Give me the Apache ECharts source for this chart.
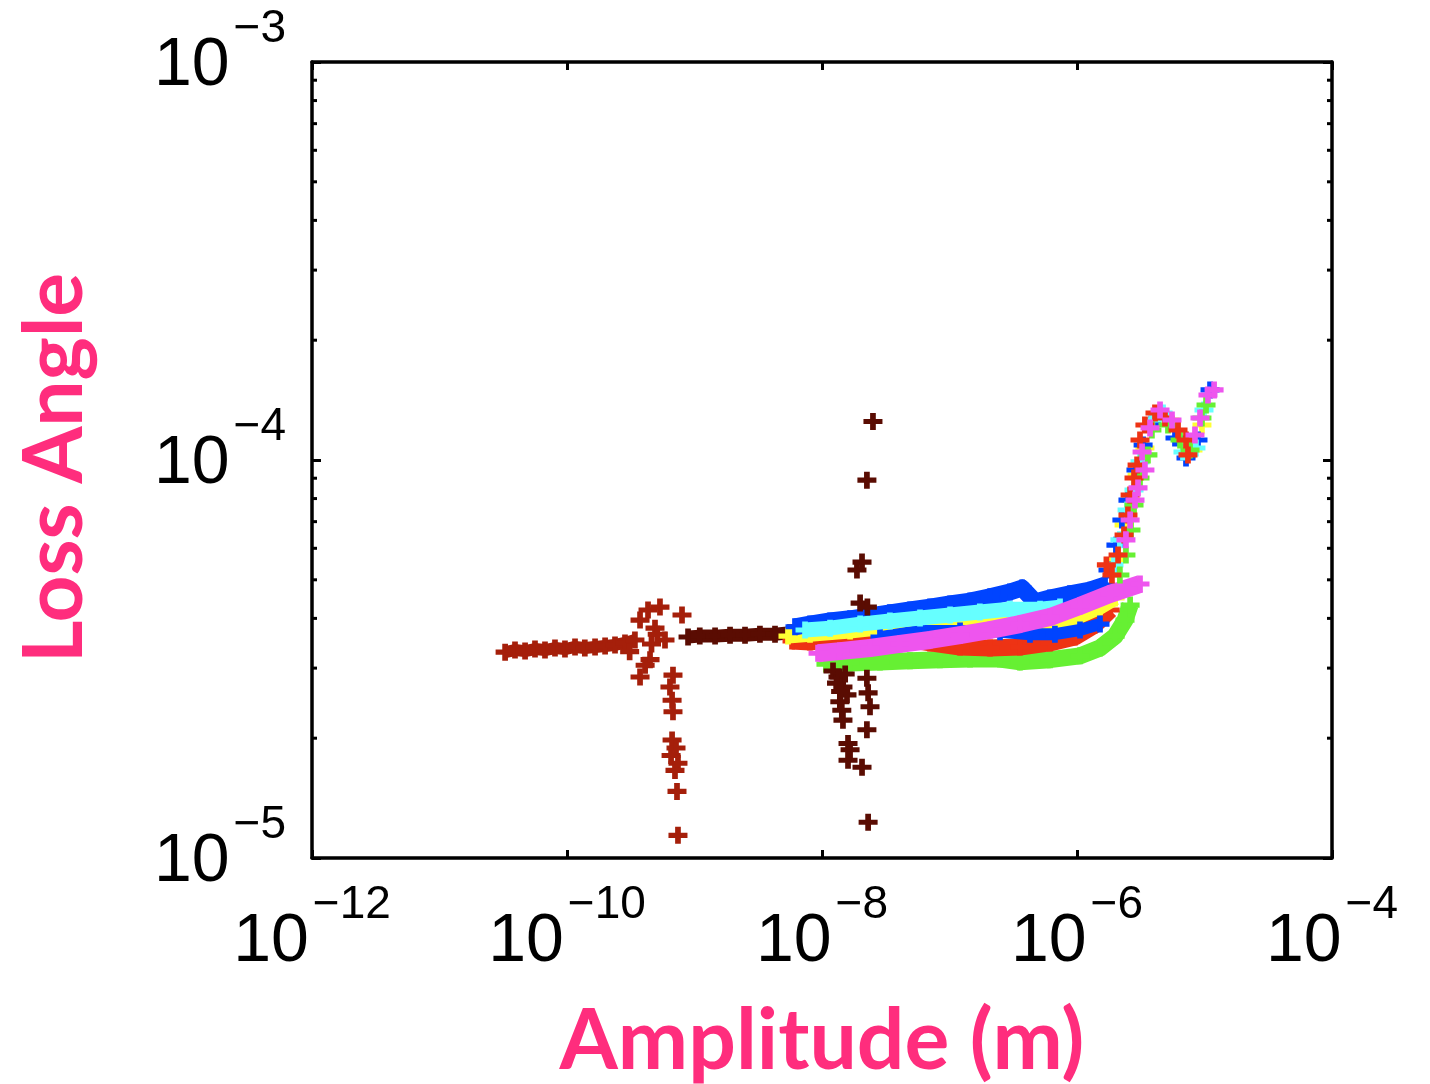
<!DOCTYPE html>
<html><head><meta charset="utf-8">
<script src="https://cdn.jsdelivr.net/npm/echarts@6/dist/echarts.min.js"></script>
<style>html,body{margin:0;padding:0;background:#fff}#c{width:1430px;height:1084px}</style>
</head><body><div id="c"></div>
<script>
// ---- axis ranges / ticks ----
const xMin = 1e-12, xMax = 1e-4;
const yMin = 1e-5, yMax = 1e-3;
const minorMantissas = [2, 3, 4, 5, 6, 7, 8, 9];
const yDecades = [1e-5, 1e-4];

// ---- data: [amplitude (m), loss angle] ----
const darkRedBand = [[3.27e-11,3.29e-5],[3.91e-11,3.33e-5],[4.69e-11,3.31e-5],[5.61e-11,3.35e-5],[6.72e-11,3.33e-5],[8.05e-11,3.37e-5],[9.64e-11,3.35e-5],[1.156e-10,3.39e-5],[1.38e-10,3.37e-5],[1.66e-10,3.39e-5],[1.99e-10,3.41e-5],[2.38e-10,3.43e-5],[2.85e-10,3.47e-5],[3.41e-10,3.53e-5]];
const darkRedScatter = [[3.74e-10,3.96e-5],[4.32e-10,4.20e-5],[5.36e-10,4.27e-5],[4.90e-10,3.78e-5],[5.87e-10,3.53e-5],[7.98e-10,4.08e-5],[4.48e-10,3.15e-5],[3.74e-10,2.85e-5],[4.10e-10,3.05e-5],[6.78e-10,2.88e-5],[6.42e-10,2.69e-5],[6.67e-10,2.49e-5],[6.78e-10,2.33e-5],[6.67e-10,1.98e-5],[7.16e-10,1.89e-5],[6.55e-10,1.81e-5],[7.42e-10,1.73e-5],[7.03e-10,1.66e-5],[7.29e-10,1.47e-5],[7.42e-10,1.14e-5],[3.1e-10,3.30e-5],[4.6e-10,3.45e-5],[5.1e-10,3.65e-5]];
const maroonBand = [[8.9e-10,3.59e-5],[1.10e-9,3.61e-5],[1.45e-9,3.61e-5],[1.90e-9,3.63e-5],[2.49e-9,3.63e-5],[3.26e-9,3.65e-5],[4.28e-9,3.65e-5],[5.61e-9,3.68e-5]];
const maroonScatter = [[2.51e-8,1.25e-4],[2.25e-8,8.9e-5],[2.06e-8,5.54e-5],[1.88e-8,5.29e-5],[1.99e-8,4.37e-5],[2.27e-8,4.27e-5],[1.335e-8,2.85e-5],[1.46e-8,2.69e-5],[1.57e-8,2.57e-5],[1.38e-8,2.47e-5],[1.43e-8,2.35e-5],[1.46e-8,2.22e-5],[1.60e-8,1.94e-5],[1.66e-8,1.87e-5],[1.60e-8,1.76e-5],[2.06e-8,1.69e-5],[2.25e-8,2.83e-5],[2.30e-8,2.60e-5],[2.38e-8,2.40e-5],[2.25e-8,2.10e-5],[2.30e-8,1.23e-5],[1.22e-8,2.95e-5],[1.30e-8,2.75e-5],[1.52e-8,2.90e-5],[1.40e-8,2.62e-5]];
const greenBand = [[1.074e-8,3.07e-5],[1.66e-8,3.09e-5],[2.85e-8,3.11e-5],[4.90e-8,3.13e-5],[8.42e-8,3.15e-5],[1.45e-7,3.16e-5],[2.49e-7,3.16e-5],[3.57e-7,3.11e-5],[6.14e-7,3.15e-5],[1.056e-6,3.22e-5],[1.515e-6,3.37e-5],[1.99e-6,3.61e-5],[2.38e-6,3.96e-5],[2.61e-6,4.32e-5]];
const redBand = [[5.82e-9,3.51e-5],[8.05e-9,3.49e-5],[1.38e-8,3.57e-5],[2.38e-8,3.59e-5],[4.09e-8,3.57e-5],[7.03e-8,3.47e-5],[1.21e-7,3.39e-5],[2.08e-7,3.37e-5],[3.57e-7,3.39e-5],[6.14e-7,3.47e-5],[9.64e-7,3.59e-5],[1.38e-6,3.85e-5],[1.82e-6,4.20e-5]];
const yellowBand = [[5.41e-9,3.61e-5],[8.05e-9,3.65e-5],[1.66e-8,3.72e-5],[3.41e-8,3.81e-5],[7.03e-8,3.89e-5],[1.45e-7,3.99e-5],[2.49e-7,3.92e-5],[4.28e-7,3.78e-5],[6.71e-7,3.81e-5],[1.056e-6,4.06e-5],[1.515e-6,4.27e-5],[1.99e-6,4.50e-5]];
const blueLowBand = [[2.85e-8,3.59e-5],[5.87e-8,3.72e-5],[1.21e-7,3.72e-5],[2.49e-7,3.70e-5],[4.28e-7,3.65e-5],[6.71e-7,3.65e-5],[1.056e-6,3.74e-5],[1.515e-6,3.87e-5]];
const blueBand = [[6.14e-9,3.81e-5],[8.05e-9,3.87e-5],[1.156e-8,3.94e-5],[1.66e-8,3.99e-5],[2.38e-8,4.06e-5],[3.41e-8,4.13e-5],[4.90e-8,4.20e-5],[7.03e-8,4.27e-5],[1.01e-7,4.35e-5],[1.45e-7,4.42e-5],[2.08e-7,4.53e-5],[2.98e-7,4.66e-5],[3.71e-7,4.77e-5],[4.69e-7,4.40e-5],[6.14e-7,4.50e-5],[8.81e-7,4.61e-5],[1.265e-6,4.71e-5],[1.66e-6,4.85e-5]];
const cyanBand = [[7.36e-9,3.74e-5],[1.156e-8,3.78e-5],[1.99e-8,3.87e-5],[3.41e-8,3.94e-5],[5.87e-8,4.01e-5],[1.01e-7,4.08e-5],[1.73e-7,4.15e-5],[2.98e-7,4.22e-5],[5.13e-7,4.22e-5],[7.36e-7,4.27e-5]];
const magentaBand = [[9.31e-9,3.27e-5],[1.38e-8,3.31e-5],[2.38e-8,3.37e-5],[4.09e-8,3.45e-5],[7.03e-8,3.53e-5],[1.21e-7,3.63e-5],[2.08e-7,3.74e-5],[3.57e-7,3.87e-5],[6.14e-7,4.03e-5],[1.056e-6,4.30e-5],[1.82e-6,4.61e-5],[3.12e-6,4.88e-5]];

const yellowTail = [[2.06e-6,5.61e-5],[2.34e-6,6.87e-5],[2.65e-6,7.93e-5],[2.96e-6,9.17e-5],[3.41e-6,1.072e-4],[4.09e-6,1.26e-4],[5.36e-6,1.26e-4],[8.12e-6,1.06e-4],[9.55e-6,1.224e-4]];
const blueTail = [[1.75e-6,5.29e-5],[2.02e-6,6.11e-5],[2.25e-6,7.07e-5],[2.51e-6,7.93e-5],[2.90e-6,9.44e-5],[3.30e-6,1.091e-4],[4.32e-6,1.275e-4],[5.87e-6,1.136e-4],[7.16e-6,1.012e-4],[8.89e-6,1.123e-4],[1.105e-5,1.50e-4]];
const cyanTail = [[1.95e-6,5.45e-5],[2.17e-6,6.30e-5],[2.47e-6,7.49e-5],[2.80e-6,8.41e-5],[3.12e-6,9.89e-5],[3.87e-6,1.26e-4],[4.73e-6,1.313e-4],[6.78e-6,1.047e-4],[8.57e-6,1.072e-4],[9.91e-6,1.335e-4]];
const greenTail = [[2.17e-6,5.14e-5],[2.42e-6,5.77e-5],[2.65e-6,6.67e-5],[2.80e-6,7.71e-5],[3.12e-6,9.01e-5],[3.60e-6,1.03e-4],[3.87e-6,1.19e-4],[5.17e-6,1.224e-4],[6.43e-6,1.123e-4],[7.70e-6,1.06e-4],[9.55e-6,1.275e-4],[1.028e-5,1.375e-4]];
const redTail = [[1.70e-6,5.45e-5],[1.88e-6,5.14e-5],[2.10e-6,5.77e-5],[2.34e-6,6.48e-5],[2.51e-6,7.27e-5],[2.61e-6,8.17e-5],[2.80e-6,9.01e-5],[2.96e-6,9.71e-5],[3.12e-6,1.123e-4],[3.41e-6,1.224e-4],[4.09e-6,1.313e-4],[4.90e-6,1.275e-4],[6.20e-6,1.19e-4],[7.16e-6,1.123e-4],[7.42e-6,1.03e-4]];
const magentaTail = [[2.42e-6,6.30e-5],[2.61e-6,7.07e-5],[2.85e-6,7.93e-5],[3.01e-6,8.51e-5],[3.41e-6,9.44e-5],[3.24e-6,1.047e-4],[3.74e-6,1.204e-4],[4.48e-6,1.335e-4],[5.56e-6,1.26e-4],[8.42e-6,1.156e-4],[9.22e-6,1.275e-4],[1.065e-5,1.456e-4],[1.189e-5,1.50e-4]];

// ---- colours ----
const C = {
  darkRed: '#a51f0a', maroon: '#5a0c02', green: '#66f033', red: '#ee3314',
  yellow: '#ffff33', blue: '#0044ff', cyan: '#66ffff', magenta: '#ee55ee'
};
const PINK = '#ff2d7d';
const PLUS = 'path://M3.5,0H6.5V3.5H10V6.5H6.5V10H3.5V6.5H0V3.5H3.5Z';
const SYM = [19, 17];
const TICKFONT = 'Liberation Sans, Arial, sans-serif';

function band(data, color, width, z) {
  return { type: 'line', data, symbol: PLUS, symbolSize: SYM, showAllSymbol: true,
    itemStyle: { color }, lineStyle: { color, width, cap: 'butt', join: 'round' },
    z, silent: true, animation: false };
}
function pts(data, color, z) {
  return { type: 'scatter', data, symbol: PLUS, symbolSize: SYM,
    itemStyle: { color, opacity: 1 }, z, silent: true, animation: false };
}
function expLabel(v) {
  const e = Math.round(Math.log10(v));
  return '{b|10}{s|\u2212' + Math.abs(e) + '}';
}
const rich = {
  b: { fontFamily: TICKFONT, fontSize: 68, lineHeight: 94, verticalAlign: 'bottom', color: '#000' },
  s: { fontFamily: TICKFONT, fontSize: 46, lineHeight: 46, verticalAlign: 'top', color: '#000', padding: [0, 0, 0, 4] }
};

const minorTickValues = [];
yDecades.forEach(d => minorMantissas.forEach(m => minorTickValues.push(m * d)));

const axisLineStyle = { show: true, lineStyle: { color: '#000', width: 3.5 } };

const option = {
  backgroundColor: '#fff',
  animation: false,
  grid: { left: 312, top: 62, width: 1020, height: 796, containLabel: false, outerBoundsMode: 'none' },
  xAxis: [
    { type: 'log', logBase: 100, min: xMin, max: xMax, position: 'bottom',
      axisLine: axisLineStyle,
      axisTick: { show: true, inside: true, length: 8, lineStyle: { color: '#000', width: 3 } },
      splitLine: { show: false },
      axisLabel: { formatter: expLabel, rich, margin: 24, showMinLabel: true, showMaxLabel: true },
      name: 'Amplitude (m)', nameLocation: 'middle', nameGap: 142,
      nameTextStyle: { fontFamily: 'Lato, sans-serif', fontWeight: 'bold', fontSize: 84, color: PINK } },
    { type: 'log', logBase: 100, min: xMin, max: xMax, position: 'top',
      axisLine: axisLineStyle,
      axisTick: { show: true, inside: true, length: 8, lineStyle: { color: '#000', width: 3 } },
      splitLine: { show: false }, axisLabel: { show: false } }
  ],
  yAxis: [
    { type: 'log', logBase: 10, min: yMin, max: yMax, position: 'left',
      axisLine: axisLineStyle,
      axisTick: { show: true, inside: true, length: 9, lineStyle: { color: '#000', width: 3 } },
      splitLine: { show: false },
      axisLabel: { formatter: expLabel, rich, margin: 26, padding: [0, 0, 18, 0], showMinLabel: true, showMaxLabel: true },
      name: 'Loss Angle', nameLocation: 'middle', nameGap: 215,
      nameTextStyle: { fontFamily: 'Lato, sans-serif', fontWeight: 'bold', fontSize: 82, color: PINK, padding: [0, 16, 0, 0] } },
    { type: 'log', logBase: 10, min: yMin, max: yMax, position: 'right',
      axisLine: axisLineStyle,
      axisTick: { show: true, inside: true, length: 9, lineStyle: { color: '#000', width: 3 } },
      splitLine: { show: false }, axisLabel: { show: false } }
  ],
  series: [
    band(darkRedBand, C.darkRed, 12, 2),
    pts(darkRedScatter, C.darkRed, 2),
    band(maroonBand, C.maroon, 13, 2),
    band(greenBand, C.green, 17, 3),
    band(redBand, C.red, 17, 4),
    band(yellowBand, C.yellow, 15, 5),
    band(blueLowBand, C.blue, 12, 6),
    band(blueBand, C.blue, 17, 6),
    band(cyanBand, C.cyan, 15, 7),
    band(magentaBand, C.magenta, 18, 8),
    pts(yellowTail, C.yellow, 9),
    pts(blueTail, C.blue, 9),
    pts(cyanTail, C.cyan, 9),
    pts(greenTail, C.green, 9),
    pts(redTail, C.red, 9),
    pts(magentaTail, C.magenta, 9),
    pts(maroonScatter, C.maroon, 9),
    { type: 'custom', silent: true, z: 10, clip: false,
      data: minorTickValues.map(v => [xMin, v]),
      renderItem: function (params, api) {
        const v = api.value(1);
        const pl = api.coord([xMin, v]);
        const pr = api.coord([xMax, v]);
        return { type: 'group', children: [
          { type: 'line', shape: { x1: pl[0], y1: pl[1], x2: pl[0] + 5, y2: pl[1] }, style: { stroke: '#000', lineWidth: 3 } },
          { type: 'line', shape: { x1: pr[0] - 5, y1: pr[1], x2: pr[0], y2: pr[1] }, style: { stroke: '#000', lineWidth: 3 } }
        ] };
      } }
  ]
};
const chart = echarts.init(document.getElementById('c'), null, { renderer: 'canvas' });
chart.setOption(option);
</script></body></html>
